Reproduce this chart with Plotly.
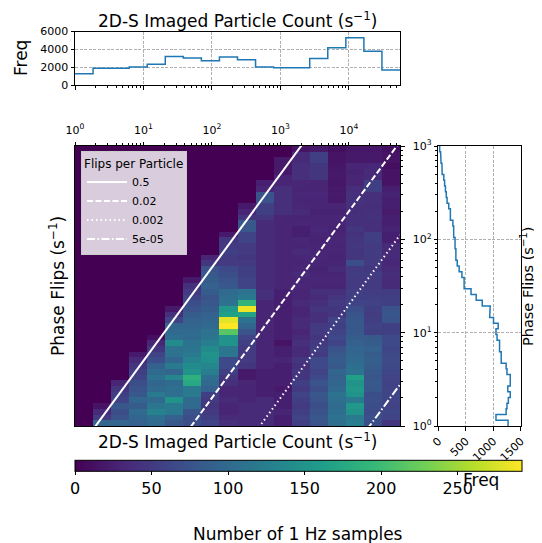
import numpy as np
import plotly.graph_objects as go

# Bin layout (log-spaced edges)
x_edges = np.logspace(0, 4.745, 19)   # 2D-S imaged particle count (s^-1)
y_edges = np.logspace(0, 3, 50)       # phase flips (s^-1)

# 2D histogram counts, one list per particle-count bin, bottom -> top
# (rows above the end of each list are empty)
c00 = []
c01 = [95, 50, 35, 15]
c02 = [95, 75, 70, 80, 60, 55, 45, 30]
c03 = [90, 95, 100, 85, 95, 80, 75, 70, 60, 55, 45, 35, 20]
c04 = [100, 105, 130, 115, 100, 120, 100, 95, 110, 100, 90, 70, 60, 45, 30, 12]
c05 = [80, 90, 120, 120, 150, 105, 105, 100, 135, 95, 120, 95, 110, 110, 140,
       105, 100, 95, 60, 40, 20]
c06 = [70, 70, 75, 100, 100, 120, 120, 175, 185, 150, 140, 130, 120, 115, 110,
       100, 100, 95, 90, 85, 75, 70, 60, 50, 40, 20]
c07 = [60, 55, 50, 45, 50, 55, 90, 100, 105, 125, 135, 145, 150, 140, 125, 115,
       110, 100, 95, 90, 85, 80, 75, 85, 90, 85, 80, 75, 45, 30]
c08 = [40, 35, 30, 30, 35, 30, 30, 40, 45, 55, 65, 65, 115, 115, 150, 150, 215,
       292, 280, 165, 155, 110, 105, 100, 80, 75, 70, 65, 50, 50, 55, 50, 45, 20]
c09 = [35, 35, 35, 35, 30, 30, 30, 30, 20, 20, 45, 50, 50, 50, 55, 60, 75, 95,
       110, 170, 285, 190, 120, 110, 60, 60, 55, 55, 50, 45, 50, 50, 60, 60, 80,
       80, 45, 30, 20]
c10 = [35, 35, 35, 35, 35, 25, 25, 25, 25, 25, 30, 30, 30, 30, 30, 30, 30, 30,
       30, 30, 30, 30, 40, 40, 35, 35, 35, 35, 35, 35, 35, 35, 35, 35, 35, 35,
       45, 55, 55, 75, 75, 30, 25]
c11 = [25, 25, 30, 25, 25, 25, 20, 25, 25, 25, 25, 30, 25, 25, 15, 25, 25, 25,
       25, 25, 25, 25, 25, 25, 30, 30, 30, 30, 30, 30, 30, 30, 30, 30, 30, 30,
       30, 40, 40, 40, 40, 40, 30, 30, 20, 20, 20]
c12 = [55, 60, 55, 50, 55, 60, 50, 55, 45, 45, 40, 45, 35, 35, 40, 35, 30, 35,
       35, 30, 30, 35, 30, 30, 32, 30, 35, 32, 30, 32, 35, 30, 32, 25, 25, 32,
       30, 35, 32, 30, 32, 30, 32, 40, 40, 40, 35, 35, 15]
c13 = [75, 80, 75, 70, 75, 80, 70, 75, 65, 60, 65, 65, 50, 55, 50, 45, 50, 50,
       40, 40, 45, 40, 35, 40, 30, 32, 30, 28, 30, 32, 30, 30, 28, 30, 32, 30,
       30, 28, 30, 30, 32, 30, 30, 45, 45, 45, 55, 55, 20]
c14 = [105, 110, 105, 100, 105, 110, 100, 95, 90, 95, 80, 85, 80, 75, 60, 65,
       60, 55, 60, 45, 45, 50, 45, 40, 30, 32, 30, 35, 30, 28, 30, 30, 32, 30,
       28, 30, 30, 28, 30, 20, 22, 20, 18, 20, 20, 18, 15, 15, 12]
c15 = [125, 120, 150, 155, 120, 150, 155, 150, 165, 110, 105, 100, 95, 95, 90,
       85, 80, 80, 80, 75, 70, 60, 55, 55, 50, 50, 52, 50, 70, 45, 45, 48, 45,
       42, 45, 40, 40, 38, 40, 42, 40, 38, 30, 30, 28, 30, 20, 20, 18]
c16 = [70, 72, 68, 70, 72, 70, 80, 82, 78, 80, 85, 88, 85, 90, 85, 82, 55, 58,
       55, 52, 55, 58, 55, 52, 50, 50, 52, 48, 50, 50, 52, 50, 55, 55, 40, 40,
       42, 40, 38, 40, 40, 55, 55, 35, 35, 32, 20, 20, 18]
c17 = [45, 60, 62, 58, 60, 62, 60, 58, 60, 62, 65, 68, 65, 62, 65, 65, 55, 55,
       75, 78, 75, 55, 55, 52, 35, 35, 38, 35, 32, 35, 35, 35, 25, 25, 28, 25,
       25, 22, 25, 25, 28, 25, 15, 15, 15, 12, 15, 15, 12]

columns = [c00, c01, c02, c03, c04, c05, c06, c07, c08, c09,
           c10, c11, c12, c13, c14, c15, c16, c17]

# Marginal histograms
count_freq = [1300, 1900, 1900, 2050, 2350, 3200, 3050, 2750, 3150, 2850,
              2050, 1950, 1950, 3000, 4200, 5300, 3800, 1700]
flip_freq = [1270, 1050, 1235, 1250, 1275, 1310, 1265, 1310, 1310, 1250, 1235,
             1145, 1145, 1115, 1115, 1070, 1050, 1090, 1005, 935, 945, 800, 690,
             596, 470, 470, 430, 380, 345, 320, 320, 305, 305, 280, 280, 265,
             220, 220, 190, 160, 145, 130, 115, 100, 70, 66, 50, 42, 25]

# Reference lines: flips per particle
ratios = [0.5, 0.02, 0.002, 5e-05]
ratio_labels = ['0.5', '0.02', '0.002', '5e-05']
ratio_dash = ['solid', '6px,2.5px', '1.5px,3px', '8px,2.5px,1.5px,2.5px']

z = np.zeros((len(y_edges) - 1, len(x_edges) - 1))
for j, col in enumerate(columns):
    z[:len(col), j] = col

# page body has an 8px margin, so lay out in window pixels minus 8
W, H, OFF = 534, 535, 8
fx = lambda px: (px - OFF) / W
fy = lambda py: 1 - (py - OFF) / H

FONT = 'DejaVu Sans'
C0 = '#1f77b4'
sup = lambda n: f'10<sup>{n}</sup>'
unit_label = 'Phase Flips (s<sup>\u22121</sup>)'
count_label = '2D-S Imaged Particle Count (s<sup>\u22121</sup>)'

fig = go.Figure()

fig.add_trace(go.Heatmap(
    x=x_edges, y=y_edges, z=z, xaxis='x', yaxis='y',
    colorscale='Viridis', zmin=0, zmax=292, showscale=True,
    colorbar=dict(orientation='h', x=fx(75), xanchor='left',
                  len=446.5 / W, lenmode='fraction',
                  y=fy(499), yanchor='bottom', thickness=11,
                  xpad=0, ypad=0, outlinewidth=1, outlinecolor='black',
                  ticks='outside', ticklen=3.5, tickcolor='black',
                  tickvals=[0, 50, 100, 150, 200, 250],
                  tickfont=dict(family=FONT, size=16, color='black')),
))

xl = np.array([1, 10 ** 4.745])
for r, lab, dash in zip(ratios, ratio_labels, ratio_dash):
    fig.add_trace(go.Scatter(
        x=xl, y=r * xl, mode='lines', name=lab, xaxis='x', yaxis='y',
        line=dict(color='white', width=2, dash=dash)))

# top histogram (step)
fig.add_trace(go.Scatter(
    x=np.repeat(x_edges, 2)[1:-1], y=np.repeat(count_freq, 2),
    mode='lines', line=dict(color=C0, width=1.5), showlegend=False,
    xaxis='x2', yaxis='y2'))

# right histogram (step, horizontal)
fig.add_trace(go.Scatter(
    x=np.repeat(flip_freq, 2), y=np.repeat(y_edges, 2)[1:-1],
    mode='lines', line=dict(color=C0, width=1.5), showlegend=False,
    xaxis='x3', yaxis='y3'))

tickfont = dict(family=FONT, size=11, color='black')
frame = dict(showline=True, mirror=True, linecolor='black', linewidth=1,
             zeroline=False, ticks='outside', ticklen=3.5, tickwidth=1,
             tickcolor='black', tickfont=tickfont)
minor = dict(tickmode='linear', dtick='D1', ticks='outside', ticklen=2,
             tickcolor='black', showgrid=False)
grid = dict(showgrid=True, gridcolor='#b0b0b0', gridwidth=0.8,
            griddash='3px,1.5px')
dec_x = [1, 10, 100, 1000, 10000]
dec_y = [1, 10, 100, 1000]

main_x = [fx(75), fx(400)]
main_y = [fy(426), fy(146)]

fig.update_layout(
    width=W, height=H,
    margin=dict(l=0, r=0, t=0, b=0, autoexpand=False),
    paper_bgcolor='white', plot_bgcolor='white',
    font=dict(family=FONT, color='black'),
    xaxis=dict(domain=main_x, anchor='y', type='log', range=[0, 4.745],
               side='top', tickvals=dec_x, ticktext=[sup(i) for i in range(5)],
               showgrid=False, minor=minor, ticklabelstandoff=3, **frame),
    yaxis=dict(domain=main_y, anchor='x', type='log', range=[0, 3],
               side='right', tickvals=dec_y, showticklabels=False,
               showgrid=False, minor=minor, **frame),
    xaxis2=dict(domain=main_x, anchor='y2', type='log', range=[0, 4.745],
                tickvals=dec_x, showticklabels=False, minor=minor,
                **grid, **frame),
    yaxis2=dict(domain=[fy(85.3), fy(31.5)], anchor='x2',
                range=[0, 6000], tickvals=[0, 2000, 4000, 6000],
                **grid, **frame),
    xaxis3=dict(domain=[fx(438.3), fx(520.7)], anchor='y3',
                range=[0, 1500], tickvals=[0, 500, 1000, 1500],
                tickangle=-45, **grid, **frame),
    yaxis3=dict(domain=main_y, anchor='x3', type='log', range=[0, 3],
                tickvals=dec_y, ticktext=[sup(i) for i in range(4)],
                minor=minor, **grid, **frame),
    legend=dict(x=fx(81), y=fy(151), xanchor='left', yanchor='top',
                bgcolor='rgba(255,255,255,0.8)', bordercolor='#cccccc',
                borderwidth=1, itemwidth=40,
                title=dict(text='Flips per Particle',
                           font=dict(family=FONT, size=12, color='black')),
                font=dict(family=FONT, size=11, color='black')),
)

big = dict(family=FONT, size=17, color='black')
notes = [
    (237.5, 20, count_label, 0, 17),
    (21, 58, 'Freq', -90, 17),
    (57, 286, unit_label, -90, 17),
    (237.5, 441, count_label, 0, 17),
    (527, 286, unit_label, -90, 14.5),
    (481, 480, 'Freq', 0, 17),
    (298, 534, 'Number of 1 Hz samples', 0, 17),
]
for px, py, txt, ang, size in notes:
    fig.add_annotation(x=fx(px), y=fy(py), xref='paper', yref='paper',
                       text=txt, showarrow=False, textangle=ang,
                       font=dict(big, size=size),
                       xanchor='center', yanchor='middle')

fig.write_html('out.html')
